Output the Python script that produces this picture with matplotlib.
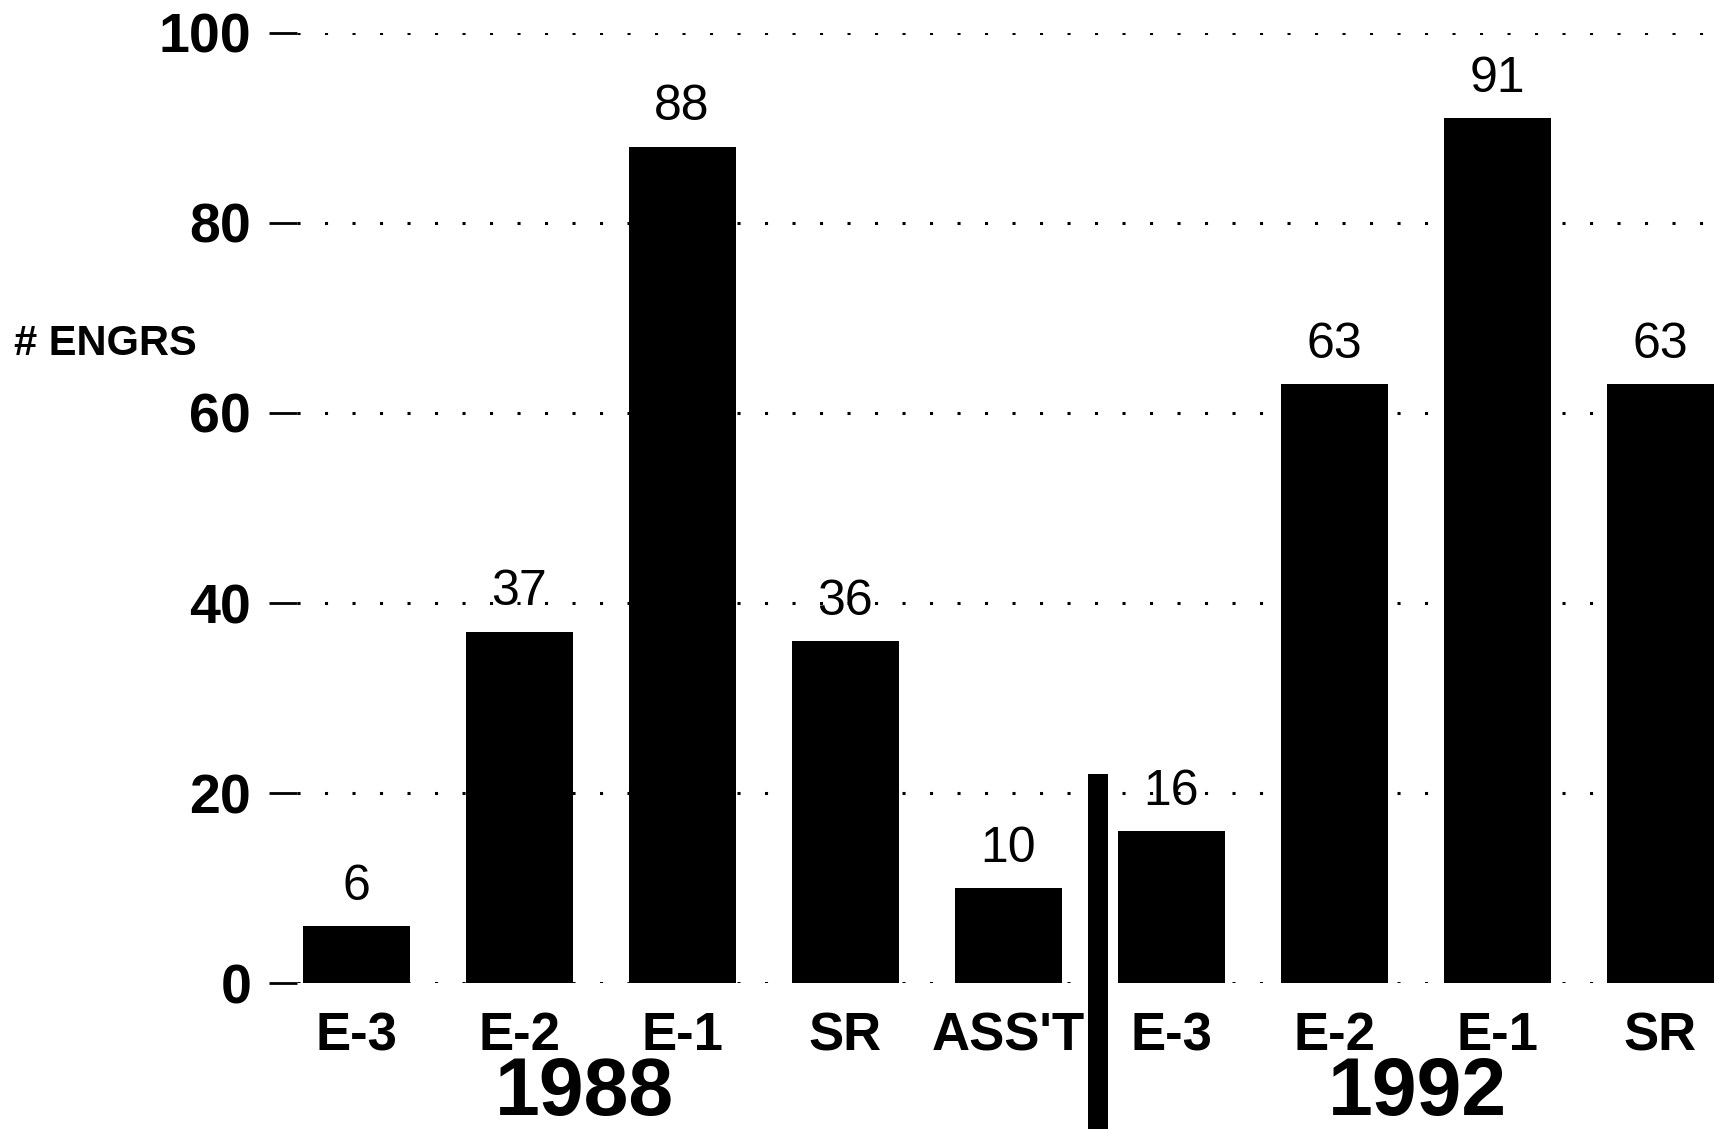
import matplotlib
matplotlib.use("Agg")
import matplotlib.pyplot as plt

plt.rcParams['font.family'] = ['Liberation Sans', 'DejaVu Sans']

# Engineers per grade, 1988 and 1992
categories = ["E-3", "E-2", "E-1", "SR", "ASS'T", "E-3", "E-2", "E-1", "SR"]
values = [6, 37, 88, 36, 10, 16, 63, 91, 63]
years = ["1988", "1992"]
y_ticks = [0, 20, 40, 60, 80, 100]

fig = plt.figure(figsize=(17.27, 11.29), dpi=100)
ax = fig.add_axes([0.172, 0.129, 0.828, 0.842])

x = list(range(len(values)))
ax.bar(x, values, width=0.656, color='black', zorder=3)

# value labels above each bar
for xi, v in zip(x, values):
    ax.annotate(str(v), (xi, v), xytext=(0, 19), textcoords='offset points',
                ha='center', va='baseline', fontsize=36)

# dotted gridlines with solid tick stubs on the left
ax.set_yticks(y_ticks)
ax.set_yticklabels([str(t) for t in y_ticks], fontsize=40, fontweight='bold')
for t in y_ticks:
    ax.axhline(t, color='black', linestyle=(0, (1, 8)), linewidth=2.2, zorder=1)
ax.tick_params(axis='y', length=20, width=2, pad=13, direction='out')

ax.set_xticks(x)
ax.set_xticklabels(categories, fontsize=38, fontweight='bold')
ax.tick_params(axis='x', length=0, pad=20)

ax.set_xlim(-0.362, 8.41)
ax.set_ylim(0, 100)
for spine in ax.spines.values():
    spine.set_visible(False)

# separator between the two years
ax.bar(4.55, 52, bottom=-30, width=0.123, color='black', clip_on=False, zorder=4)

# year labels under each group
trans = ax.get_xaxis_transform()
ax.text(1.40, -0.116, years[0], transform=trans, ha='center', va='center',
        fontsize=58, fontweight='bold')
ax.text(6.51, -0.116, years[1], transform=trans, ha='center', va='center',
        fontsize=58, fontweight='bold')

fig.text(0.008, 1 - 344 / 1129, "# ENGRS", ha='left', va='center',
         fontsize=30, fontweight='bold')

fig.savefig("out.png", dpi=100)
